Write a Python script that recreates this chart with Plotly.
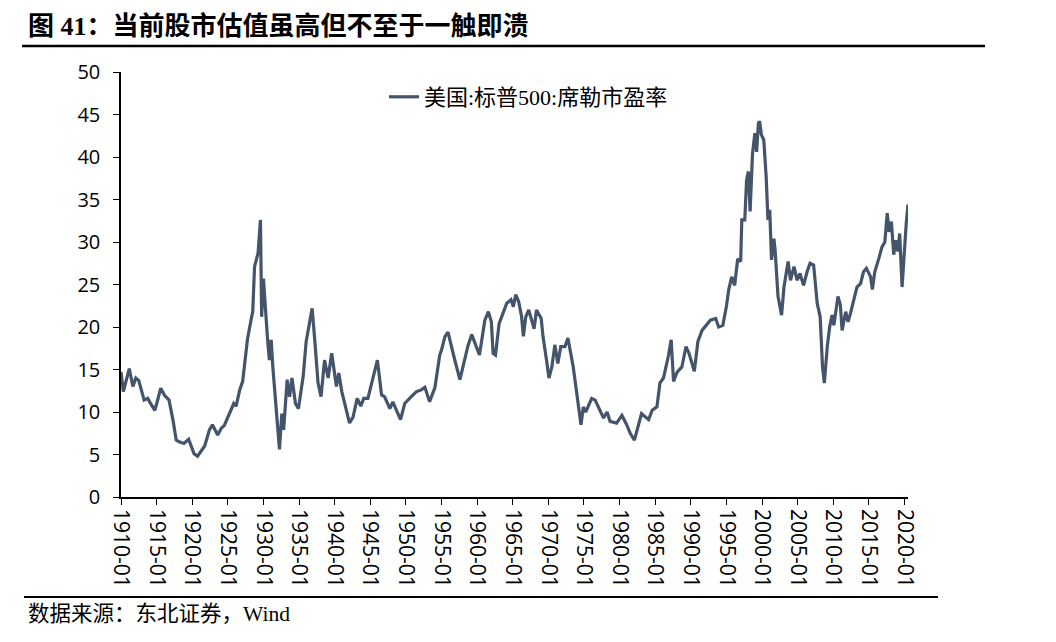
import plotly.graph_objects as go

# ---- data ----
months = [
    "1910-01","1910-05","1911-03","1911-09","1912-02","1912-07","1913-04","1913-10","1914-02","1914-10",
    "1915-02","1915-08","1916-02","1916-10","1917-05","1917-10","1918-03","1918-11","1919-07","1919-12",
    "1920-04","1920-10","1921-05","1921-10","1922-06","1922-11","1923-08","1924-02","1924-07","1925-01",
    "1925-07","1925-11","1926-03","1926-09","1927-02","1927-07","1927-10","1928-04","1928-07","1928-10",
    "1929-04","1929-08","1929-10","1930-01","1930-03","1930-05","1930-08","1930-11","1931-02","1931-05",
    "1931-10","1932-04","1932-08","1932-11","1933-05","1933-09","1934-01","1934-07","1934-12","1935-08",
    "1936-01","1936-07","1936-11","1937-03","1937-09","1938-02","1938-08","1939-02","1939-08","1940-04",
    "1940-08","1941-01","1942-02","1942-08","1943-03","1943-09","1944-02","1944-09","1945-05","1946-01",
    "1946-08","1947-01","1947-10","1948-03","1949-04","1949-11","1950-10","1951-07","1952-03","1952-09",
    "1953-05","1954-02","1954-10","1955-01","1955-07","1955-12","1956-10","1957-08","1958-10","1959-04",
    "1960-05","1961-02","1961-08","1962-01","1962-04","1962-08","1963-02","1963-09","1964-03","1964-10",
    "1965-02","1965-06","1965-11","1966-04","1966-07","1966-11","1967-04","1968-01","1968-05","1969-01",
    "1969-04","1969-10","1970-02","1970-07","1970-12","1971-05","1971-10","1972-05","1972-10","1973-07",
    "1973-11","1974-04","1974-08","1974-12","1975-04","1976-02","1976-08","1977-04","1977-10","1978-04",
    "1978-09","1979-08","1980-05","1981-01","1981-07","1982-02","1982-09","1983-02","1984-02","1984-08",
    "1985-04","1985-09","1986-03","1986-11","1987-04","1987-08","1988-02","1988-10","1989-05","1989-10",
    "1990-07","1991-01","1991-08","1992-10","1993-07","1993-12","1994-07","1995-01","1995-05","1995-10",
    "1996-03","1996-08","1997-01","1997-03","1997-08","1997-11","1998-02","1998-05","1998-09","1999-01",
    "1999-04","1999-07","1999-09","1999-12","2000-04","2000-08","2000-11","2001-02","2001-05","2001-09",
    "2001-11","2002-04","2002-10","2003-02","2003-09","2004-01","2004-07","2004-12","2005-05","2005-11",
    "2006-05","2006-10","2007-04","2007-10","2008-03","2008-07","2008-10","2009-03","2009-07","2009-11",
    "2010-02","2010-09","2011-01","2011-04","2011-10","2012-02","2012-06","2012-11","2013-05","2013-11",
    "2014-04","2014-09","2015-04","2015-07","2015-11","2016-06","2016-11","2017-04","2017-08","2017-11",
    "2018-03","2018-07","2018-10","2019-02","2019-05","2019-09","2020-01","2020-04","2020-07",
]
cape = [
    14.7,12.4,15.1,13.0,14.0,13.7,11.4,11.6,11.1,10.2,
    11.2,12.8,12.0,11.4,8.9,6.7,6.5,6.3,6.8,5.9,
    5.1,4.8,5.6,6.0,7.9,8.5,7.3,8.1,8.4,9.4,
    10.2,11.0,10.7,12.6,13.6,16.5,18.5,20.8,21.8,27.1,
    28.7,32.6,21.2,25.7,23.5,21.4,18.5,16.1,18.5,15.2,
    10.6,5.6,9.8,7.9,13.8,11.8,14.0,11.0,10.4,14.2,
    18.3,20.4,22.2,18.9,13.4,11.8,16.1,14.0,16.9,13.0,
    14.6,12.4,8.7,9.4,11.6,10.7,11.6,11.6,13.8,16.1,
    12.0,11.8,10.4,11.2,9.1,11.0,11.8,12.4,12.6,12.9,
    11.2,12.9,16.7,17.3,18.9,19.4,16.5,13.8,17.9,19.1,
    16.7,20.8,21.8,20.6,16.9,16.7,20.4,21.6,22.8,23.2,
    22.4,23.8,23.0,21.2,18.9,21.2,22.0,19.8,22.0,21.0,
    18.9,16.1,14.0,15.3,17.9,15.7,17.7,17.7,18.7,15.3,
    13.2,10.8,8.5,10.6,10.0,11.6,11.4,10.2,9.3,10.0,
    8.9,8.7,9.6,8.5,7.5,6.7,8.5,9.8,9.1,10.2,
    10.6,13.4,14.0,16.5,18.5,13.6,14.7,15.3,17.7,16.9,
    14.8,18.3,19.6,20.8,21.0,20.0,20.2,22.4,24.4,25.9,
    24.9,28.0,27.7,32.6,32.6,37.3,38.3,33.6,40.4,42.8,
    40.6,44.0,44.2,42.6,42.0,37.7,32.6,33.8,27.9,30.4,
    29.1,23.6,21.4,24.7,27.7,25.5,27.1,25.5,26.3,24.9,
    26.5,27.5,27.3,22.8,21.2,15.3,13.4,17.7,20.0,21.4,
    20.2,23.6,22.6,19.6,21.8,20.6,21.6,23.2,24.7,25.1,
    26.5,26.9,25.9,24.4,26.5,28.1,29.4,30.0,33.4,31.2,
    32.4,28.5,30.2,28.9,31.0,24.7,30.0,32.2,34.4,
]
series_name = "美国:标普500:席勒市盈率"
title_text = "图 41：当前股市估值虽高但不至于一触即溃"
source_text = "数据来源：东北证券，Wind"

# The page body has an 8px margin, so the figure is drawn 8px smaller and
# all screen positions below are given in screen pixels and shifted by 8.
OFF = 8
W, H = 1056 - OFF, 642 - OFF
L, R, T, B = 121 - OFF, 908 - OFF, 72 - OFF, 497 - OFF
def px(x):  # screen x -> paper
    return (x - OFF - L) / (R - L)
def py(y):  # screen y -> paper
    return (B - (y - OFF)) / (B - T)

fig = go.Figure()
fig.add_trace(go.Scatter(
    x=[m + "-01" for m in months], y=cape, mode="lines", name=series_name,
    line=dict(color="#44546A", width=3.2), showlegend=True,
))

xfont = dict(family="Open Sans, Liberation Sans, sans-serif", size=21, color="#000000")
yfont = dict(family="Open Sans, Liberation Sans, sans-serif", size=20, color="#000000")

fig.update_layout(
    width=W, height=H,
    margin=dict(l=L, r=W - R, t=T, b=H - B, pad=0),
    paper_bgcolor="white", plot_bgcolor="white",
    showlegend=True,
    legend=dict(
        x=px(384), y=py(97), xanchor="left", yanchor="middle",
        bgcolor="rgba(0,0,0,0)", borderwidth=0,
        font=dict(family="Liberation Serif, Noto Sans CJK SC, serif", size=22, color="#000000"),
    ),
    xaxis=dict(
        type="date",
        range=[months[0] + "-01", months[-1] + "-01"],
        tick0="1910-01-01", dtick="M60", tickformat="%Y-%m",
        tickangle=90, tickfont=xfont,
        showline=True, linecolor="#000000", linewidth=1.5,
        ticks="outside", ticklen=6, tickcolor="#000000", tickwidth=1.3,
        showgrid=False, zeroline=False,
    ),
    yaxis=dict(
        range=[0, 50], dtick=5, tick0=0,
        tickfont=yfont,
        showline=True, linecolor="#000000", linewidth=1.5,
        ticks="outside", ticklen=6, tickcolor="#000000", tickwidth=1.3,
        ticklabelstandoff=9,
        showgrid=False, zeroline=False,
    ),
    shapes=[
        dict(type="line", xref="paper", yref="paper", x0=px(22), x1=px(985), y0=py(46), y1=py(46),
             line=dict(color="#000000", width=2.5)),
        dict(type="line", xref="paper", yref="paper", x0=px(24), x1=px(938), y0=py(597), y1=py(597),
             line=dict(color="#000000", width=2)),
    ],
    annotations=[
        dict(text="<b>" + title_text + "</b>", xref="paper", yref="paper", x=px(26), y=py(27),
             xanchor="left", yanchor="middle", showarrow=False,
             font=dict(family="Liberation Serif, Noto Sans CJK SC, serif", size=26, color="#000000")),
        dict(text=source_text, xref="paper", yref="paper", x=px(26), y=py(614),
             xanchor="left", yanchor="middle", showarrow=False,
             font=dict(family="Liberation Serif, Noto Sans CJK SC, serif", size=21.5, color="#000000")),
    ],
)

fig.write_html("out.html")
